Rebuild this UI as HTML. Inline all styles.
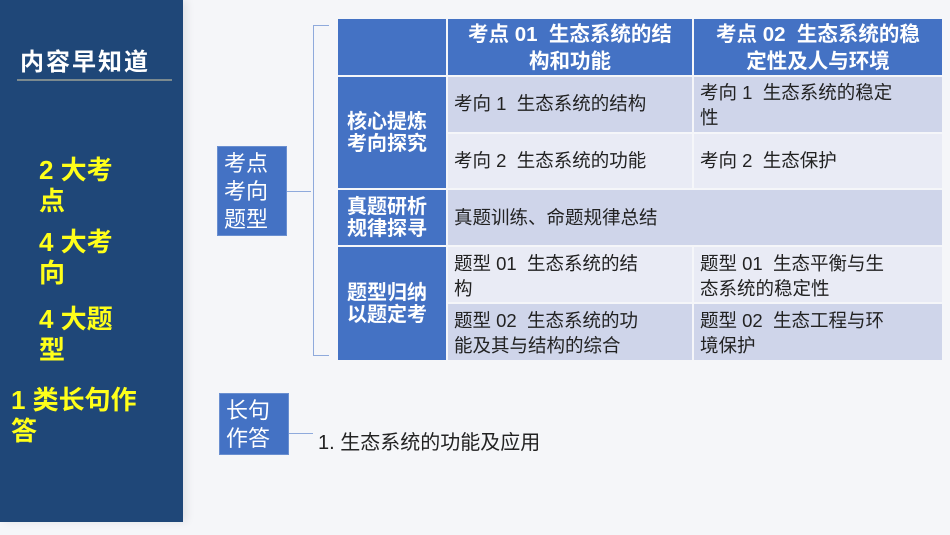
<!DOCTYPE html>
<html><head><meta charset="utf-8"><style>
body{margin:0;width:950px;height:535px;background:#f5f6f9;position:relative;overflow:hidden;font-family:"Liberation Sans","Noto Sans CJK SC",sans-serif}
.side{position:absolute;left:0;top:0;width:183px;height:522px;background:#1f4778;box-shadow:4px 0 8px rgba(0,0,0,.08)}
.y{position:absolute;color:#ffff1a;font-weight:bold;font-size:26px;line-height:31px}
.box{position:absolute;background:#4472c4;color:#fff;font-size:22px;line-height:28px;border:1px solid #6a8fd0;box-sizing:border-box;padding:3px 0 0 6px}
.c{position:absolute;box-sizing:border-box;font-size:18.5px;line-height:25px;color:#222;padding:0 6px}
.h{background:#4472c4;color:#fff;font-weight:bold;font-size:20.5px;text-align:center}
.l{background:#4472c4;color:#fff;font-weight:bold;font-size:20px;line-height:22px;padding:0 0 0 9px;display:flex;align-items:center}
.d{background:#cfd5ea}.e{background:#e9ebf5}
.line{position:absolute;background:#8faadc}
</style></head><body>
<div class="side"></div>
<div style="position:absolute;left:20px;top:42px;color:#fff;font-size:24px;font-weight:bold;letter-spacing:2px">内容早知道</div>
<div style="position:absolute;left:17px;top:79px;width:155px;height:2px;background:#7b8a8f"></div>
<div class="y" style="left:39px;top:155px">2 大考<br>点</div>
<div class="y" style="left:39px;top:227px">4 大考<br>向</div>
<div class="y" style="left:39px;top:304px">4 大题<br>型</div>
<div class="y" style="left:11px;top:385px">1 类长句作<br>答</div>

<div class="box" style="left:217px;top:146px;width:70px;height:90px">考点<br>考向<br>题型</div>
<div class="line" style="left:287px;top:191px;width:24px;height:1px"></div>
<div class="line" style="left:313px;top:25px;width:1px;height:330px"></div>
<div class="line" style="left:313px;top:25px;width:16px;height:1px"></div>
<div class="line" style="left:313px;top:355px;width:16px;height:1px"></div>

<div class="box" style="left:219px;top:393px;width:70px;height:62px">长句<br>作答</div>
<div class="line" style="left:289px;top:433px;width:24px;height:1px"></div>
<div style="position:absolute;left:318px;top:426px;font-size:20px;color:#222">1. 生态系统的功能及应用</div>

<div class="c h" style="left:338px;top:19px;width:108px;height:56px"></div>
<div class="c h" style="left:448px;top:19px;width:244px;height:56px;line-height:27px;padding-top:2px">考点 01 &nbsp;生态系统的结<br>构和功能</div>
<div class="c h" style="left:694px;top:19px;width:248px;height:56px;line-height:27px;padding-top:2px">考点 02 &nbsp;生态系统的稳<br>定性及人与环境</div>

<div class="c l" style="left:338px;top:77px;width:108px;height:111px">核心提炼<br>考向探究</div>
<div class="c d" style="left:448px;top:77px;width:244px;height:55px;padding-top:14px">考向 1 &nbsp;生态系统的结构</div>
<div class="c d" style="left:694px;top:77px;width:248px;height:55px;padding-top:3px">考向 1 &nbsp;生态系统的稳定<br>性</div>
<div class="c e" style="left:448px;top:134px;width:244px;height:54px;padding-top:14px">考向 2 &nbsp;生态系统的功能</div>
<div class="c e" style="left:694px;top:134px;width:248px;height:54px;padding-top:14px">考向 2 &nbsp;生态保护</div>

<div class="c l" style="left:338px;top:190px;width:108px;height:55px">真题研析<br>规律探寻</div>
<div class="c d" style="left:448px;top:190px;width:494px;height:55px;padding-top:15px">真题训练、命题规律总结</div>

<div class="c l" style="left:338px;top:247px;width:108px;height:113px">题型归纳<br>以题定考</div>
<div class="c e" style="left:448px;top:247px;width:244px;height:55px;padding-top:4px">题型 01 &nbsp;生态系统的结<br>构</div>
<div class="c e" style="left:694px;top:247px;width:248px;height:55px;padding-top:4px">题型 01 &nbsp;生态平衡与生<br>态系统的稳定性</div>
<div class="c d" style="left:448px;top:304px;width:244px;height:56px;padding-top:4px">题型 02 &nbsp;生态系统的功<br>能及其与结构的综合</div>
<div class="c d" style="left:694px;top:304px;width:248px;height:56px;padding-top:4px">题型 02 &nbsp;生态工程与环<br>境保护</div>
</body></html>
